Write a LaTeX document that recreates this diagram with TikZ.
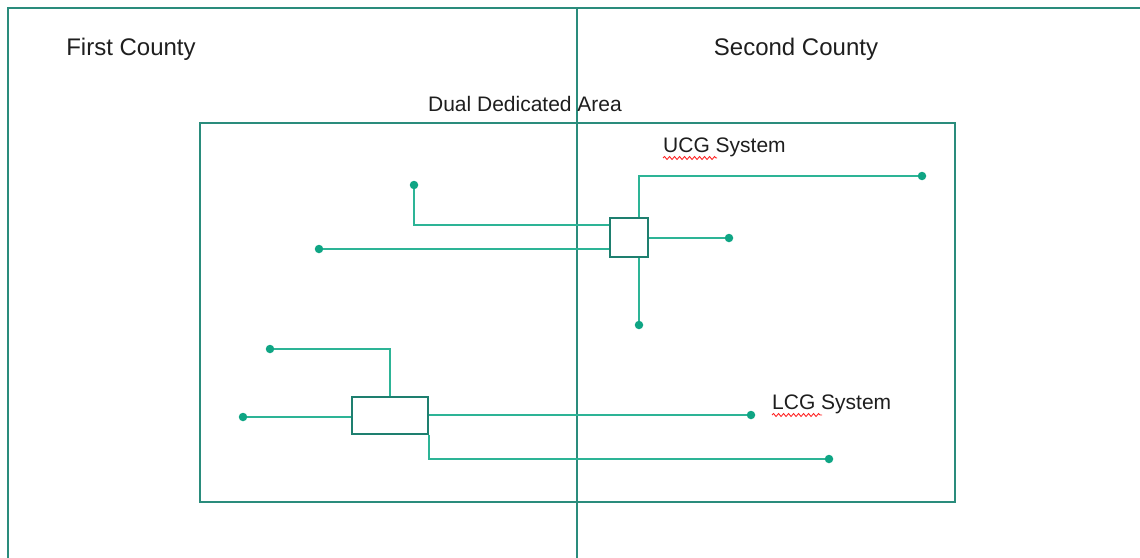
\documentclass[tikz,border=0pt]{standalone}
\usepackage{fontspec}
\setmainfont{Liberation Sans}
\usepackage{tikz}
\usetikzlibrary{positioning,calc,decorations.pathmorphing}
\definecolor{CgFrame}{HTML}{2A8C7C}
\definecolor{CgPipe}{HTML}{2DB496}
\definecolor{CgDot}{HTML}{0FA584}
\definecolor{CgBox}{HTML}{1E7F6F}
\definecolor{CgText}{HTML}{1E1E1E}

\begin{document}
\begin{tikzpicture}[
            x=1pt, y=-1pt,
            frame/.style={draw=CgFrame, line width=2pt},
            pipe/.style={draw=CgPipe, line width=2pt},
            dot/.style={circle, fill=CgDot, inner sep=0pt, minimum size=8.5pt},
            gbox/.style={draw=CgBox, line width=2pt, fill=white, inner sep=0pt},
            county/.style={font=\fontsize{24}{28}\selectfont, text=CgText, inner sep=0pt},
            tag/.style={font=\fontsize{21}{25}\selectfont, text=CgText, inner sep=0pt},
            squig/.style={draw=red!85, line width=0.9pt,
                    decorate, decoration={snake, amplitude=1.5pt, segment length=5pt}},
        ]
        \useasboundingbox (0,0) rectangle (1140,557);

        % Counties and dedicated area
        \draw[frame] (8,560) -- (8,8) -- (1145,8);
        \draw[frame] (577,8) -- (577,560);
        \draw[frame] (200,123) rectangle (955,502);

        \node[county] (first) at (131,49.5) {First County};
        \node[county] (second) at (796,49.5) {Second County};
        \node[tag] (area) at (525,104) {Dual Dedicated Area};

        % UCG system
        \node[gbox, minimum width=38pt, minimum height=39pt] (ucg) at (629,237.5) {};
        \node[tag, anchor=west] (ucglbl) at (663,147) {UCG System};
        \draw[squig] (663,158) -- (717,158);

        \node[dot] (u1) at (922,176) {};
        \node[dot] (u2) at (414,185) {};
        \node[dot] (u3) at (319,249) {};
        \node[dot] (u4) at (729,238) {};
        \node[dot] (u5) at (639,325) {};

        \draw[pipe] (u5 |- ucg.north) |- (u1);
        \draw[pipe] (u2) |- ([yshift=12.5pt]ucg.west);
        \draw[pipe] (u3) -- (u3 -| ucg.west);
        \draw[pipe] (ucg.east |- u4) -- (u4);
        \draw[pipe] (u5) -- (u5 |- ucg.south);

        % LCG system
        \node[gbox, minimum width=76pt, minimum height=37pt] (lcg) at (390,415.5) {};
        \node[tag, anchor=west] (lcglbl) at (772,404) {LCG System};
        \draw[squig] (772,415) -- (822,415);

        \node[dot] (l1) at (270,349) {};
        \node[dot] (l2) at (243,417) {};
        \node[dot] (l3) at (751,415) {};
        \node[dot] (l4) at (829,459) {};

        \draw[pipe] (l1) -| (lcg.north);
        \draw[pipe] (l2) -- (l2 -| lcg.west);
        \draw[pipe] (lcg.east |- l3) -- (l3);
        \draw[pipe] (lcg.south east) |- (l4);

    \end{tikzpicture}
\end{document}
